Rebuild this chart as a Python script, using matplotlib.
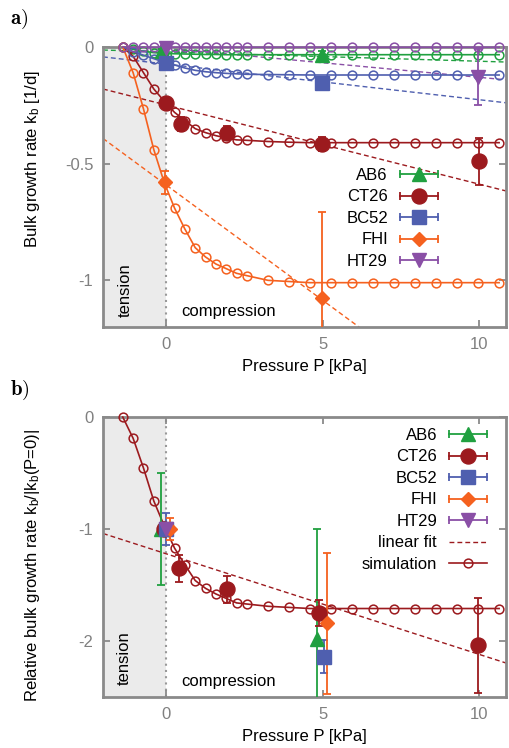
import matplotlib
matplotlib.use('Agg')
import matplotlib.pyplot as plt
import numpy as np
from matplotlib.lines import Line2D
from matplotlib.legend_handler import HandlerBase

plt.rcParams['font.family'] = ['Liberation Sans', 'DejaVu Sans']
plt.rcParams['axes.unicode_minus'] = False
plt.rcParams['mathtext.fontset'] = 'custom'
plt.rcParams['mathtext.rm'] = 'Liberation Sans'
plt.rcParams['mathtext.it'] = 'Liberation Sans:italic'
plt.rcParams['mathtext.bf'] = 'Liberation Sans:bold'

# ---------------- data ----------------
names = ['AB6', 'CT26', 'BC52', 'FHI', 'HT29']
colors = ['#20a040', '#9c1a1e', '#4f5faf', '#f5611f', '#8a4fa6']
markers = ['^', 'o', 's', 'D', 'v']
msizes = [9.5, 10.8, 10.5, 7.2, 9.5]

# simulation pressure grid [kPa]
P_sim = [-1.37, -1.04, -0.71, -0.38, -0.05, 0.28, 0.61, 0.94, 1.27, 1.60, 1.93, 2.26, 2.59,
         3.26, 3.93, 4.60, 5.27, 5.94, 6.61, 7.28, 7.95, 8.62, 9.29, 9.96, 10.63]

# panel a) simulations (bulk growth rate, 1/d)
sim_AB6 = [0.0, -0.010, -0.018, -0.024, -0.027, -0.029, -0.030, -0.031, -0.032, -0.032, -0.033, -0.033, -0.033,
           -0.033, -0.033, -0.033, -0.033, -0.033, -0.033, -0.033, -0.033, -0.033, -0.033, -0.033, -0.033]
sim_CT26 = [0.0, -0.040, -0.110, -0.180, -0.232, -0.280, -0.315, -0.350, -0.367, -0.380, -0.390, -0.398, -0.400,
            -0.405, -0.408, -0.410, -0.410, -0.410, -0.410, -0.410, -0.410, -0.410, -0.410, -0.410, -0.410]
sim_BC52 = [0.0, -0.020, -0.035, -0.050, -0.065, -0.077, -0.090, -0.100, -0.106, -0.110, -0.113, -0.115, -0.117,
            -0.118, -0.119, -0.120, -0.120, -0.120, -0.120, -0.120, -0.120, -0.120, -0.120, -0.120, -0.120]
sim_FHI = [0.0, -0.110, -0.265, -0.440, -0.580, -0.690, -0.780, -0.860, -0.900, -0.930, -0.950, -0.970, -0.980,
           -1.000, -1.005, -1.010, -1.010, -1.010, -1.010, -1.010, -1.010, -1.010, -1.010, -1.010, -1.010]
sim_HT29 = [0.0, -0.001, -0.001, -0.001, -0.001, -0.001, -0.001, -0.001, -0.001, -0.001, -0.001, -0.001, -0.001,
            -0.001, -0.001, -0.001, -0.001, -0.001, -0.001, -0.001, -0.001, -0.001, -0.001, -0.001, -0.001]
sims_a = [sim_AB6, sim_CT26, sim_BC52, sim_FHI, sim_HT29]

# panel a) measurements
P_a = [[-0.12, 4.97], [0.0, 0.48, 1.95, 4.98, 9.98], [0.0, 4.98], [-0.03, 4.98], [0.0, 9.95]]
k_a = [[-0.018, -0.035], [-0.24, -0.33, -0.37, -0.415, -0.49], [-0.07, -0.155], [-0.58, -1.077], [-0.005, -0.13]]
e_a = [[0.01, 0.02], [0.01, 0.03, 0.03, 0.03, 0.10], [0.01, 0.01], [0.05, 0.37], [0.003, 0.12]]

# panel a) linear fits: intercept, slope
fit_a_icpt = [-0.021, -0.248, -0.073, -0.590, -0.005]
fit_a_slope = [-0.0040, -0.0340, -0.0153, -0.0990, -0.0125]

# panel b) measurements (relative)
P_b = [[-0.15, 4.83], [-0.05, 0.42, 1.95, 4.90, 9.97], [0.0, 5.04], [0.13, 5.15], [0.0]]
r_b = [[-1.0, -1.98], [-1.0, -1.35, -1.54, -1.75, -2.04], [-1.0, -2.14], [-1.0, -1.84], [-1.0]]
e_b = [[0.5, 0.98], [0.02, 0.12, 0.12, 0.12, 0.42], [0.14, 0.15], [0.10, 0.63], [0.04]]

# panel b) simulation (CT26, relative) and linear fit
sim_rel = [0.0, -0.19, -0.455, -0.75, -0.97, -1.17, -1.32, -1.46, -1.53, -1.58, -1.62, -1.66, -1.67,
           -1.69, -1.70, -1.71, -1.71, -1.71, -1.71, -1.71, -1.71, -1.71, -1.71, -1.71, -1.71]
fit_b_icpt = -1.22
fit_b_slope = -0.090

xlim = (-2.0, 10.85)

# ---------------- figure ----------------
W, H = 509, 748
fig = plt.figure(figsize=(W / 100, H / 100), dpi=100)


def rect(l, t, r, b):
    return [l / W, 1 - b / H, (r - l) / W, (b - t) / H]


ax1 = fig.add_axes(rect(103, 47, 506, 327))
ax2 = fig.add_axes(rect(103, 417, 506, 697))

GRAY = '#8a8a8a'
dash = (0, (3.5, 2.2))


def style(ax, yticks, ylim):
    ax.set_xlim(*xlim)
    ax.set_ylim(*ylim)
    ax.set_xticks([0, 5, 10])
    ax.set_yticks(yticks)
    ax.set_yticklabels([('%g' % v) for v in yticks])
    for s in ax.spines.values():
        s.set_color(GRAY)
        s.set_linewidth(2.0)
    ax.tick_params(direction='in', length=5, width=1.3, color=GRAY, labelcolor='#808080',
                   top=True, right=True, labelsize=12, pad=7)
    ax.axvspan(xlim[0], 0, color='#ebebeb', zorder=0, lw=0)
    ax.axvline(0, color='#999999', ls=(0, (1, 2)), lw=1.5, zorder=1)
    ax.set_xlabel('Pressure P [kPa]', fontsize=12, labelpad=5)


class HErr(HandlerBase):
    def create_artists(self, legend, orig_handle, xdescent, ydescent, width, height, fontsize, trans):
        c = orig_handle.get_color()
        y = height / 2.0 - ydescent
        x0, x1 = -xdescent, -xdescent + width
        ln = Line2D([x0, x1], [y, y], color=c, lw=1.3)
        caps = Line2D([x0, x1], [y, y], ls='none', marker='|', ms=6, mew=1.3, color=c)
        mk = Line2D([(x0 + x1) / 2], [y], ls='none', marker=orig_handle.get_marker(),
                    ms=orig_handle.get_markersize(), color=c, mec=c)
        for a in (ln, caps, mk):
            a.set_transform(trans)
        return [ln, caps, mk]


def err_handles():
    hs = [Line2D([], [], color=c, marker=m, ms=ms) for c, m, ms in zip(colors, markers, msizes)]
    return hs


xx = np.array(xlim)

# ---------- panel a ----------
style(ax1, [0, -0.5, -1], (-1.2, 0.0))
for i in range(5):
    ax1.plot(xx, fit_a_icpt[i] + fit_a_slope[i] * xx, color=colors[i], ls=dash, lw=1.0, zorder=2)
for i in range(5):
    ax1.plot(P_sim, sims_a[i], color=colors[i], lw=1.2, marker='o', mfc='none', ms=6.3, mew=1.1,
             zorder=3, clip_on=False)
for i in range(5):
    ax1.errorbar(P_a[i], k_a[i], yerr=e_a[i], fmt='none', ecolor=colors[i], elinewidth=1.3,
                 capsize=3, capthick=1.3, zorder=4)
    ax1.plot(P_a[i], k_a[i], ls='none', marker=markers[i], ms=msizes[i], color=colors[i],
             mec=colors[i], zorder=5, clip_on=False)
ax1.text(-1.28, -1.158, 'tension', rotation=90, ha='center', va='bottom', fontsize=12)
ax1.text(0.5, -1.152, 'compression', ha='left', va='baseline', fontsize=12)
ax1.set_ylabel('Bulk growth rate k$_\\mathrm{b}$ [1/d]', fontsize=12)
ax1.yaxis.set_label_coords(-0.151, 0.60)

hs = err_handles()
ax1.legend(hs, names, handler_map={h: HErr() for h in hs}, loc='upper right',
           bbox_to_anchor=(0.831, 0.568), frameon=False, markerfirst=False, fontsize=12,
           handlelength=2.3, handletextpad=0.7, labelspacing=0.39, borderpad=0, borderaxespad=0)

# ---------- panel b ----------
style(ax2, [0, -1, -2], (-2.5, 0.0))
ax2.plot(xx, fit_b_icpt + fit_b_slope * xx, color=colors[1], ls=dash, lw=1.0, zorder=2)
ax2.plot(P_sim, sim_rel, color=colors[1], lw=1.2, marker='o', mfc='none', ms=6.3, mew=1.1,
         zorder=3, clip_on=False)
for i in range(5):
    ax2.errorbar(P_b[i], r_b[i], yerr=e_b[i], fmt='none', ecolor=colors[i], elinewidth=1.3,
                 capsize=3, capthick=1.3, zorder=4)
    ax2.plot(P_b[i], r_b[i], ls='none', marker=markers[i], ms=msizes[i], color=colors[i],
             mec=colors[i], zorder=5, clip_on=False)
ax2.text(-1.31, -2.39, 'tension', rotation=90, ha='center', va='bottom', fontsize=12)
ax2.text(0.5, -2.40, 'compression', ha='left', va='baseline', fontsize=12)
ax2.set_ylabel('Relative bulk growth rate k$_\\mathrm{b}$/|k$_\\mathrm{b}$(P=0)|', fontsize=12)
ax2.yaxis.set_label_coords(-0.151, 0.47)

hs2 = err_handles()
fit_h = Line2D([], [], color=colors[1], ls=dash, lw=1.0)
sim_h = Line2D([], [], color=colors[1], lw=1.2, marker='o', mfc='none', ms=6.3, mew=1.1)
hmap = {h: HErr() for h in hs2}
ax2.legend(hs2 + [fit_h, sim_h], names + ['linear fit', 'simulation'], handler_map=hmap,
           loc='upper right', bbox_to_anchor=(0.953, 0.961), frameon=False, markerfirst=False,
           fontsize=12, handlelength=2.3, handletextpad=0.7, labelspacing=0.39, borderpad=0,
           borderaxespad=0)

fig.text(10 / W, 1 - 24 / H, r'$\mathbf{a)}$', fontsize=15, math_fontfamily='cm', va='baseline')
fig.text(10 / W, 1 - 395 / H, r'$\mathbf{b)}$', fontsize=15, math_fontfamily='cm', va='baseline')

fig.savefig('out.png', dpi=100)
